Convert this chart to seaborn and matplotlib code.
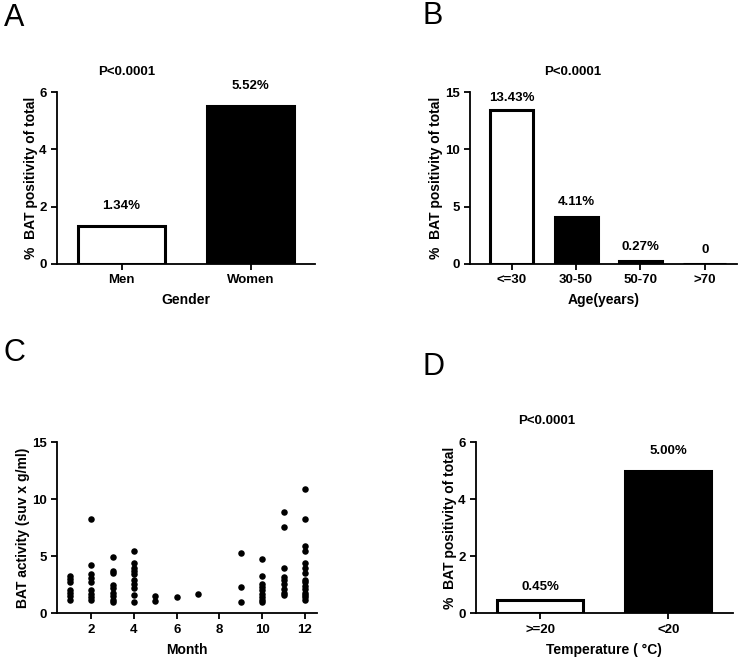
import pandas as pd
import seaborn as sns
import matplotlib.pyplot as plt

# Datos
gender_cats = ["Men", "Women"]
gender_vals = [1.34, 5.52]
gender_lbls = ["1.34%", "5.52%"]

age_cats = ["<=30", "30-50", "50-70", ">70"]
age_vals = [13.43, 4.11, 0.27, 0.0]
age_lbls = ["13.43%", "4.11%", "0.27%", "0"]

temp_cats = [">=20", "<20"]
temp_vals = [0.45, 5.00]
temp_lbls = ["0.45%", "5.00%"]

# Actividad BAT por mes (panel C)
m1 = [3.3, 3.0, 2.7, 2.0, 1.8, 1.5, 1.2]
m2 = [8.3, 4.2, 3.4, 3.1, 2.7, 2.0, 1.7, 1.4, 1.2]
m3 = [4.9, 3.7, 3.5, 2.5, 2.2, 1.8, 1.5, 1.2, 1.0]
m4 = [5.5, 4.4, 4.0, 3.7, 3.4, 2.9, 2.6, 2.2, 1.6, 1.0]
m5 = [1.5, 1.1]
m6 = [1.4]
m7 = [1.7]
m9 = [5.3, 2.3, 1.0]
m10 = [4.8, 3.3, 2.6, 2.3, 2.0, 1.7, 1.4, 1.2, 1.0]
m11 = [8.9, 7.6, 4.0, 3.2, 2.9, 2.6, 2.1, 1.8, 1.6]
m12 = [10.9, 8.3, 5.9, 5.5, 4.4, 4.0, 3.5, 2.9, 2.7, 2.4, 2.1, 1.8, 1.6, 1.4, 1.2]

meses = {1: m1, 2: m2, 3: m3, 4: m4, 5: m5, 6: m6, 7: m7,
         9: m9, 10: m10, 11: m11, 12: m12}
df_c = pd.DataFrame([(m, v) for m, vs in meses.items() for v in vs],
                    columns=["month", "bat"])

sns.set_theme(style="ticks")
plt.rcParams['font.family'] = ['Liberation Sans', 'DejaVu Sans']
plt.rcParams['font.weight'] = 'bold'
plt.rcParams['axes.labelweight'] = 'bold'
plt.rcParams['axes.linewidth'] = 1.3
plt.rcParams['xtick.major.width'] = 1.3
plt.rcParams['ytick.major.width'] = 1.3
plt.rcParams['xtick.major.size'] = 4
plt.rcParams['ytick.major.size'] = 4
plt.rcParams['xtick.color'] = 'black'
plt.rcParams['ytick.color'] = 'black'
plt.rcParams['xtick.labelcolor'] = 'black'
plt.rcParams['ytick.labelcolor'] = 'black'
plt.rcParams['text.color'] = 'black'
plt.rcParams['axes.labelcolor'] = 'black'
plt.rcParams['axes.edgecolor'] = 'black'

fig = plt.figure(figsize=(7.4, 6.58), dpi=100)

ax_a = fig.add_axes([0.077, 0.599, 0.349, 0.261])
ax_b = fig.add_axes([0.635, 0.599, 0.361, 0.261])
ax_c = fig.add_axes([0.077, 0.068, 0.351, 0.260])
ax_d = fig.add_axes([0.643, 0.068, 0.347, 0.260])

ylab = "%  BAT positivity of total"


def barras(ax, cats, vals, lbls, colores, xlabel, ylim, yticks, xlim, offs):
    sns.barplot(x=cats, y=vals, hue=cats, palette=colores, ax=ax,
                edgecolor="black", linewidth=2.2, width=0.67, legend=False,
                saturation=1)
    ax.set_xlim(*xlim)
    ax.set_ylim(*ylim)
    ax.set_yticks(yticks)
    ax.set_xlabel(xlabel, fontsize=10, fontweight="bold", labelpad=5)
    ax.set_ylabel(ylab, fontsize=10, fontweight="bold", labelpad=1)
    ax.tick_params(labelsize=9.5)
    for i, (v, t) in enumerate(zip(vals, lbls)):
        ax.annotate(t, (i, v), xytext=(0, offs[i]), textcoords="offset points",
                    ha="center", va="center", fontsize=9.5, fontweight="bold")
    sns.despine(ax=ax)


barras(ax_a, gender_cats, gender_vals, gender_lbls, ["white", "black"],
       "Gender", (0, 6), [0, 2, 4, 6], (-0.5, 1.5), [14, 14])
ax_a.text(0.04, 6.7, "P<0.0001", ha="center", va="center", fontsize=9.5,
          fontweight="bold", clip_on=False)

barras(ax_b, age_cats, age_vals, age_lbls, ["white", "black", "white", "white"],
       "Age(years)", (0, 15), [0, 5, 10, 15], (-0.65, 3.5), [9, 11, 10, 10])
ax_b.text(0.95, 16.8, "P<0.0001", ha="center", va="center", fontsize=9.5,
          fontweight="bold", clip_on=False)

barras(ax_d, temp_cats, temp_vals, temp_lbls, ["white", "black"],
       "Temperature ( \u00b0C)", (0, 6), [0, 2, 4, 6], (-0.5, 1.5), [10, 14])
ax_d.text(0.05, 6.75, "P<0.0001", ha="center", va="center", fontsize=9.5,
          fontweight="bold", clip_on=False)

# Panel C: dispersion por mes
sns.scatterplot(data=df_c, x="month", y="bat", ax=ax_c, color="black", s=22,
                linewidth=0)
ax_c.set_xlim(0.4, 12.55)
ax_c.set_ylim(0, 15)
ax_c.set_xticks([2, 4, 6, 8, 10, 12])
ax_c.set_yticks([0, 5, 10, 15])
ax_c.set_xlabel("Month", fontsize=10, fontweight="bold", labelpad=5)
ax_c.set_ylabel("BAT activity (suv x g/ml)", fontsize=10, fontweight="bold",
                labelpad=1)
ax_c.tick_params(labelsize=9.5)
sns.despine(ax=ax_c)

for letra, x, y in [("A", 0.005, 0.972), ("B", 0.571, 0.975),
                    ("C", 0.005, 0.463), ("D", 0.571, 0.443)]:
    fig.text(x, y, letra, fontsize=22, fontweight="normal", ha="left", va="center")

plt.savefig("out.png", dpi=100)
plt.close()
